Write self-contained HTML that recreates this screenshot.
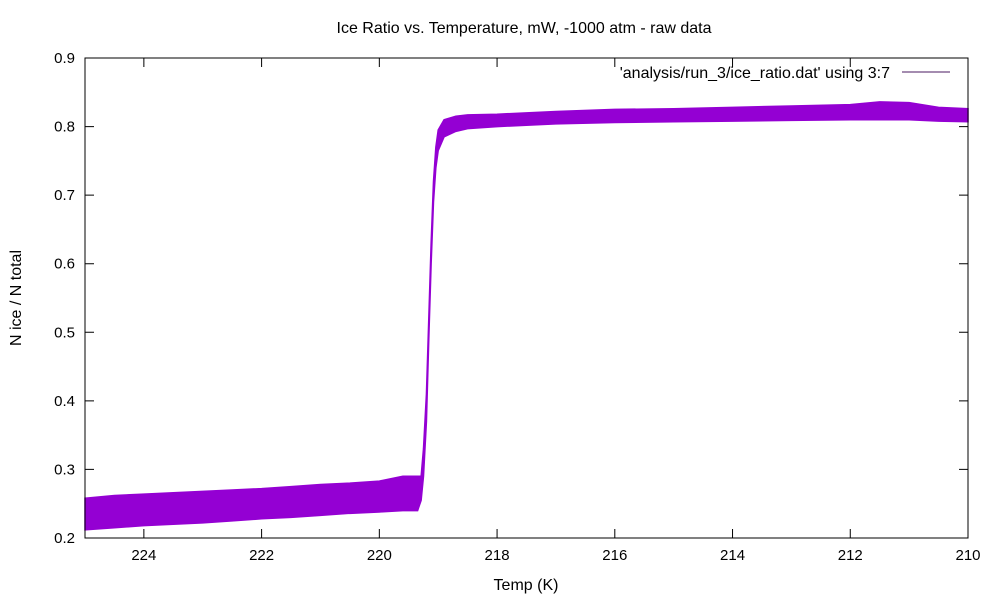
<!DOCTYPE html>
<html><head><meta charset="utf-8"><style>
body{margin:0;background:#fff}
svg{display:block;font-family:"Liberation Sans",sans-serif}
</style></head><body>
<svg width="1000" height="600" id="c">
<rect width="1000" height="600" fill="#fff"/>
<text x="524" y="33" text-anchor="middle" font-size="16">Ice Ratio vs. Temperature, mW, -1000 atm - raw data</text>
<text x="526" y="590" text-anchor="middle" font-size="16">Temp (K)</text>
<text transform="translate(21,298) rotate(-90)" text-anchor="middle" font-size="16">N ice / N total</text>
<g id="ticks"></g>
<g id="plot"></g>
<rect x="85" y="58" width="883" height="480" fill="none" stroke="#000" stroke-width="1"/>
<g>
<text x="890" y="78" text-anchor="end" font-size="16">'analysis/run_3/ice_ratio.dat' using 3:7</text>
<line x1="902" y1="72" x2="950" y2="72" stroke="#4a1a60" stroke-width="1"/>
</g>
</svg>
<script>
const xTicks=[224,222,220,218,216,214,212,210];
const yTicks=[0.2,0.3,0.4,0.5,0.6,0.7,0.8,0.9];
const temps=[225,224.5,224,223.5,223,222.5,222,221.5,221,220.5,220,219.6,219.35,219.29,219.25,219.2,219.16,219.12,219.08,219.04,219.0,218.9,218.7,218.5,218,217.5,217,216,215,214,213,212,211.5,211,210.5,210];
const lo=[0.212,0.215,0.218,0.22,0.222,0.225,0.228,0.23,0.233,0.236,0.238,0.24,0.24,0.255,0.29,0.37,0.49,0.6,0.69,0.74,0.765,0.785,0.793,0.797,0.8,0.802,0.804,0.806,0.807,0.808,0.809,0.81,0.81,0.81,0.808,0.807];
const hi=[0.258,0.262,0.264,0.266,0.268,0.27,0.272,0.275,0.278,0.28,0.283,0.29,0.29,0.29,0.33,0.41,0.52,0.63,0.72,0.77,0.795,0.81,0.815,0.817,0.818,0.82,0.822,0.825,0.826,0.828,0.83,0.832,0.836,0.835,0.828,0.826];
const X=t=>85+(225-t)/15*883;
const Y=v=>538-(v-0.2)/0.7*480;
const ns="http://www.w3.org/2000/svg";
const tg=document.getElementById('ticks'),pg=document.getElementById('plot');
function mk(tag,a,p){const e=document.createElementNS(ns,tag);for(const k in a)e.setAttribute(k,a[k]);p.appendChild(e);return e;}
xTicks.forEach(t=>{const x=X(t);
 const l=mk('path',{d:`M${x},538v-9M${x},58v9`,stroke:'#000'},tg);
 
 
 const tx=mk('text',{x:x,y:560,'text-anchor':'middle','font-size':15},tg);tx.textContent=t;
 
 
});
yTicks.forEach(v=>{const y=Y(v);
 const l=mk('path',{d:`M85,${y}h9M968,${y}h-9`,stroke:'#000'},tg);
 
 
 const tx=mk('text',{x:75,y:y+5,'text-anchor':'end','font-size':15},tg);tx.textContent=v.toFixed(1);
 
 
});
let d='M'+temps.map((t,i)=>X(t)+','+Y(hi[i])).join('L');
for(let i=temps.length-1;i>=0;i--)d+='L'+X(temps[i])+','+Y(lo[i]);
d+='Z';
const band=mk('path',{d:d,fill:'#9400d3',stroke:'#9400d3','stroke-width':1.5},pg);


</script>
</body></html>
